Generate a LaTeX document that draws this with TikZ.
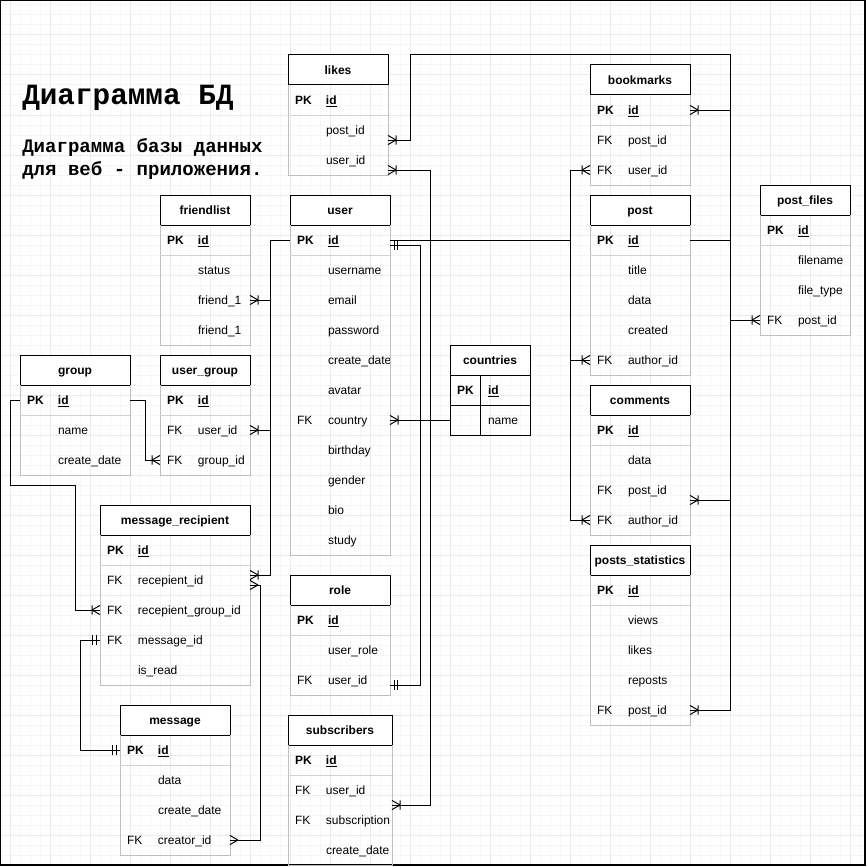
\documentclass[tikz,border=0pt]{standalone}
\usepackage{fontspec}
\setmainfont{Liberation Sans}
\newfontfamily\monofnt{Liberation Mono}
\usetikzlibrary{positioning}
\usetikzlibrary{arrows.meta}

% crow's foot ends
\pgfdeclarearrow{
    name=Crow,
    setup code={
        \pgfarrowssettipend{0pt}
        \pgfarrowssetlineend{0pt}
        \pgfarrowssetbackend{-6pt}
        \pgfarrowshullpoint{0pt}{3.4pt}
        \pgfarrowshullpoint{0pt}{-3.4pt}
        \pgfarrowshullpoint{-6pt}{0pt}},
    drawing code={
        \pgfsetdash{}{0pt}
        \pgfpathmoveto{\pgfqpoint{-6pt}{0pt}}
        \pgfpathlineto{\pgfqpoint{0pt}{3.4pt}}
        \pgfpathmoveto{\pgfqpoint{-6pt}{0pt}}
        \pgfpathlineto{\pgfqpoint{0pt}{-3.4pt}}
        \pgfusepathqstroke}}
\pgfdeclarearrow{
    name=CrowBar,
    setup code={
        \pgfarrowssettipend{0pt}
        \pgfarrowssetlineend{0pt}
        \pgfarrowssetbackend{-6pt}
        \pgfarrowshullpoint{0pt}{3.4pt}
        \pgfarrowshullpoint{0pt}{-3.4pt}
        \pgfarrowshullpoint{-6pt}{3.4pt}
        \pgfarrowshullpoint{-6pt}{-3.4pt}},
    drawing code={
        \pgfsetdash{}{0pt}
        \pgfpathmoveto{\pgfqpoint{-6pt}{0pt}}
        \pgfpathlineto{\pgfqpoint{0pt}{3.4pt}}
        \pgfpathmoveto{\pgfqpoint{-6pt}{0pt}}
        \pgfpathlineto{\pgfqpoint{0pt}{-3.4pt}}
        \pgfpathmoveto{\pgfqpoint{-6pt}{3.4pt}}
        \pgfpathlineto{\pgfqpoint{-6pt}{-3.4pt}}
        \pgfusepathqstroke}}
\pgfdeclarearrow{
    name=TwoBar,
    setup code={
        \pgfarrowssettipend{0pt}
        \pgfarrowssetlineend{0pt}
        \pgfarrowssetbackend{-5.5pt}
        \pgfarrowshullpoint{-3pt}{3.4pt}
        \pgfarrowshullpoint{-3pt}{-3.4pt}
        \pgfarrowshullpoint{-5.5pt}{3.4pt}
        \pgfarrowshullpoint{-5.5pt}{-3.4pt}},
    drawing code={
        \pgfsetdash{}{0pt}
        \pgfpathmoveto{\pgfqpoint{-3pt}{3.4pt}}
        \pgfpathlineto{\pgfqpoint{-3pt}{-3.4pt}}
        \pgfpathmoveto{\pgfqpoint{-5.5pt}{3.4pt}}
        \pgfpathlineto{\pgfqpoint{-5.5pt}{-3.4pt}}
        \pgfusepathqstroke}}

\newcommand{\fld}[2]{\rule[-2pt]{0pt}{10.6pt}\makebox[23.25pt][l]{#1}\mbox{#2}}
\newcommand{\pkrow}{\fld{\textbf{PK}}{\textbf{\underline{id}}}}

\tikzset{
    head/.style={
        draw, fill=white,
        line width=0.75pt,
        outer sep=0pt, inner xsep=0pt,
        minimum height=22.5pt,
        execute at begin node={\rule[-2pt]{0pt}{10.6pt}},
        font=\fontsize{9}{10.8}\selectfont\bfseries},
    field/.style={
        rectangle,
        outer sep=0pt, inner xsep=5.25pt, inner ysep=0pt,
        minimum height=22.5pt,
        text width=#1, align=left,
        font=\fontsize{9}{10.8}\selectfont},
    body/.style={draw=gray!50, line width=0.75pt},
    rowsep/.style={draw=gray!35, line width=0.75pt},
    link/.style={line width=0.75pt},
    gridminor/.style={draw=gray!6, line width=0.75pt},
    gridmajor/.style={draw=gray!16, line width=0.75pt}}

\begin{document}
\begin{tikzpicture}[x=0.75pt, y=-0.75pt]
    \useasboundingbox (0,0) rectangle (867,867);
    \foreach \gx in {0,10,...,860} {\draw[gridminor] (\gx,0) -- (\gx,865);}
    \foreach \gy in {5,15,...,865} {\draw[gridminor] (0,\gy) -- (865,\gy);}
    \foreach \gx in {10,50,...,850} {\draw[gridmajor] (\gx,0) -- (\gx,865);}
    \foreach \gy in {35,75,...,835} {\draw[gridmajor] (0,\gy) -- (865,\gy);}
    \draw[line width=1pt] (0.7,0.7) rectangle (865,865);

    \node[anchor=base west, inner sep=0pt, font=\monofnt\bfseries\fontsize{22}{26}\selectfont] (title) at (22,104) {Диаграмма БД};
    \node[anchor=north west, inner sep=0pt, align=left, font=\monofnt\bfseries\fontsize{14.3}{17.25}\selectfont] (subtitle) at (22,138) {Диаграмма базы данных\\для веб - приложения.};

    % likes
    \node[head, minimum width=75pt] (likes) at (338,70) {likes};
    \node[field=64.5pt, below=0pt of likes] (likes-id) {\pkrow};
    \node[field=64.5pt, below=0pt of likes-id] (likes-post) {\fld{}{post\_id}};
    \node[field=64.5pt, below=0pt of likes-post] (likes-user) {\fld{}{user\_id}};
    \draw[body] (likes.south west) |- (likes-user.south east) -- (likes.south east);
    \draw[rowsep] (likes-id.south west) -- (likes-id.south east);

    % bookmarks
    \node[head, minimum width=75pt] (bm) at (640,80) {bookmarks};
    \node[field=64.5pt, below=0pt of bm] (bm-id) {\pkrow};
    \node[field=64.5pt, below=0pt of bm-id] (bm-post) {\fld{FK}{post\_id}};
    \node[field=64.5pt, below=0pt of bm-post] (bm-user) {\fld{FK}{user\_id}};
    \draw[body] (bm.south west) |- (bm-user.south east) -- (bm.south east);
    \draw[rowsep] (bm-id.south west) -- (bm-id.south east);

    % post
    \node[head, minimum width=75pt] (post) at (640,210) {post};
    \node[field=64.5pt, below=0pt of post] (post-id) {\pkrow};
    \node[field=64.5pt, below=0pt of post-id] (post-title) {\fld{}{title}};
    \node[field=64.5pt, below=0pt of post-title] (post-data) {\fld{}{data}};
    \node[field=64.5pt, below=0pt of post-data] (post-created) {\fld{}{created}};
    \node[field=64.5pt, below=0pt of post-created] (post-author) {\fld{FK}{author\_id}};
    \draw[body] (post.south west) |- (post-author.south east) -- (post.south east);
    \draw[rowsep] (post-id.south west) -- (post-id.south east);

    % comments
    \node[head, minimum width=75pt] (com) at (640,400) {comments};
    \node[field=64.5pt, below=0pt of com] (com-id) {\pkrow};
    \node[field=64.5pt, below=0pt of com-id] (com-data) {\fld{}{data}};
    \node[field=64.5pt, below=0pt of com-data] (com-post) {\fld{FK}{post\_id}};
    \node[field=64.5pt, below=0pt of com-post] (com-author) {\fld{FK}{author\_id}};
    \draw[body] (com.south west) |- (com-author.south east) -- (com.south east);
    \draw[rowsep] (com-id.south west) -- (com-id.south east);

    % posts_statistics
    \node[head, minimum width=75pt] (stat) at (640,560) {posts\_statistics};
    \node[field=64.5pt, below=0pt of stat] (stat-id) {\pkrow};
    \node[field=64.5pt, below=0pt of stat-id] (stat-views) {\fld{}{views}};
    \node[field=64.5pt, below=0pt of stat-views] (stat-likes) {\fld{}{likes}};
    \node[field=64.5pt, below=0pt of stat-likes] (stat-reposts) {\fld{}{reposts}};
    \node[field=64.5pt, below=0pt of stat-reposts] (stat-post) {\fld{FK}{post\_id}};
    \draw[body] (stat.south west) |- (stat-post.south east) -- (stat.south east);
    \draw[rowsep] (stat-id.south west) -- (stat-id.south east);

    % post_files
    \node[head, minimum width=67.5pt] (files) at (805,200) {post\_files};
    \node[field=57pt, below=0pt of files] (files-id) {\pkrow};
    \node[field=57pt, below=0pt of files-id] (files-name) {\fld{}{filename}};
    \node[field=57pt, below=0pt of files-name] (files-type) {\fld{}{file\_type}};
    \node[field=57pt, below=0pt of files-type] (files-post) {\fld{FK}{post\_id}};
    \draw[body] (files.south west) |- (files-post.south east) -- (files.south east);
    \draw[rowsep] (files-id.south west) -- (files-id.south east);

    % countries
    \node[head, minimum width=60pt] (ctry) at (490,360) {countries};
    \node[field=49.5pt, below=0pt of ctry] (ctry-id) {\pkrow};
    \node[field=49.5pt, below=0pt of ctry-id] (ctry-name) {\fld{}{name}};
    \draw[link] (ctry.south west) |- (ctry-name.south east) -- (ctry.south east);
    \draw[link] (ctry-id.south west) -- (ctry-id.south east);
    \draw[link] ([xshift=22.5pt]ctry-id.north west) -- ([xshift=22.5pt]ctry-name.south west);

    % user
    \node[head, minimum width=75pt] (user) at (340,210) {user};
    \node[field=64.5pt, below=0pt of user] (user-id) {\pkrow};
    \node[field=64.5pt, below=0pt of user-id] (user-name) {\fld{}{username}};
    \node[field=64.5pt, below=0pt of user-name] (user-email) {\fld{}{email}};
    \node[field=64.5pt, below=0pt of user-email] (user-pass) {\fld{}{password}};
    \node[field=64.5pt, below=0pt of user-pass] (user-date) {\fld{}{create\_date}};
    \node[field=64.5pt, below=0pt of user-date] (user-avatar) {\fld{}{avatar}};
    \node[field=64.5pt, below=0pt of user-avatar] (user-country) {\fld{FK}{country}};
    \node[field=64.5pt, below=0pt of user-country] (user-birth) {\fld{}{birthday}};
    \node[field=64.5pt, below=0pt of user-birth] (user-gender) {\fld{}{gender}};
    \node[field=64.5pt, below=0pt of user-gender] (user-bio) {\fld{}{bio}};
    \node[field=64.5pt, below=0pt of user-bio] (user-study) {\fld{}{study}};
    \draw[body] (user.south west) |- (user-study.south east) -- (user.south east);
    \draw[rowsep] (user-id.south west) -- (user-id.south east);

    % friendlist
    \node[head, minimum width=67.5pt] (fr) at (205,210) {friendlist};
    \node[field=57pt, below=0pt of fr] (fr-id) {\pkrow};
    \node[field=57pt, below=0pt of fr-id] (fr-status) {\fld{}{status}};
    \node[field=57pt, below=0pt of fr-status] (fr-f1) {\fld{}{friend\_1}};
    \node[field=57pt, below=0pt of fr-f1] (fr-f2) {\fld{}{friend\_1}};
    \draw[body] (fr.south west) |- (fr-f2.south east) -- (fr.south east);
    \draw[rowsep] (fr-id.south west) -- (fr-id.south east);

    % user_group
    \node[head, minimum width=67.5pt] (ug) at (205,370) {user\_group};
    \node[field=57pt, below=0pt of ug] (ug-id) {\pkrow};
    \node[field=57pt, below=0pt of ug-id] (ug-user) {\fld{FK}{user\_id}};
    \node[field=57pt, below=0pt of ug-user] (ug-group) {\fld{FK}{group\_id}};
    \draw[body] (ug.south west) |- (ug-group.south east) -- (ug.south east);
    \draw[rowsep] (ug-id.south west) -- (ug-id.south east);

    % group
    \node[head, minimum width=82.5pt] (grp) at (75,370) {group};
    \node[field=72pt, below=0pt of grp] (grp-id) {\pkrow};
    \node[field=72pt, below=0pt of grp-id] (grp-name) {\fld{}{name}};
    \node[field=72pt, below=0pt of grp-name] (grp-date) {\fld{}{create\_date}};
    \draw[body] (grp.south west) |- (grp-date.south east) -- (grp.south east);
    \draw[rowsep] (grp-id.south west) -- (grp-id.south east);

    % message_recipient
    \node[head, minimum width=112.5pt] (mr) at (175,520) {message\_recipient};
    \node[field=102pt, below=0pt of mr] (mr-id) {\pkrow};
    \node[field=102pt, below=0pt of mr-id] (mr-rec) {\fld{FK}{recepient\_id}};
    \node[field=102pt, below=0pt of mr-rec] (mr-group) {\fld{FK}{recepient\_group\_id}};
    \node[field=102pt, below=0pt of mr-group] (mr-msg) {\fld{FK}{message\_id}};
    \node[field=102pt, below=0pt of mr-msg] (mr-read) {\fld{}{is\_read}};
    \draw[body] (mr.south west) |- (mr-read.south east) -- (mr.south east);
    \draw[rowsep] (mr-id.south west) -- (mr-id.south east);

    % message
    \node[head, minimum width=82.5pt] (msg) at (175,720) {message};
    \node[field=72pt, below=0pt of msg] (msg-id) {\pkrow};
    \node[field=72pt, below=0pt of msg-id] (msg-data) {\fld{}{data}};
    \node[field=72pt, below=0pt of msg-data] (msg-date) {\fld{}{create\_date}};
    \node[field=72pt, below=0pt of msg-date] (msg-creator) {\fld{FK}{creator\_id}};
    \draw[body] (msg.south west) |- (msg-creator.south east) -- (msg.south east);
    \draw[rowsep] (msg-id.south west) -- (msg-id.south east);

    % role
    \node[head, minimum width=75pt] (role) at (340,590) {role};
    \node[field=64.5pt, below=0pt of role] (role-id) {\pkrow};
    \node[field=64.5pt, below=0pt of role-id] (role-role) {\fld{}{user\_role}};
    \node[field=64.5pt, below=0pt of role-role] (role-user) {\fld{FK}{user\_id}};
    \draw[body] (role.south west) |- (role-user.south east) -- (role.south east);
    \draw[rowsep] (role-id.south west) -- (role-id.south east);

    % subscribers
    \node[head, minimum width=78pt] (sub) at (340,730) {subscribers};
    \node[field=67.5pt, below=0pt of sub] (sub-id) {\pkrow};
    \node[field=67.5pt, below=0pt of sub-id] (sub-user) {\fld{FK}{user\_id}};
    \node[field=67.5pt, below=0pt of sub-user] (sub-subs) {\fld{FK}{subscription}};
    \node[field=67.5pt, below=0pt of sub-subs] (sub-date) {\fld{}{create\_date}};
    \draw[body] (sub.south west) |- (sub-date.south east) -- (sub.south east);
    \draw[rowsep] (sub-id.south west) -- (sub-id.south east);

    % connectors
    \coordinate (pbus) at (730,55);
    \coordinate (ubus) at (570,170);
    \coordinate (lbus) at (270,240);

    \draw[link, {CrowBar}-{CrowBar}] ([yshift=-7.5pt]likes-post.east) -| (410,55) -- (pbus) |- (stat-post.east);
    \draw[link, -{CrowBar}] (bm-id.east -| pbus) -- (bm-id.east);
    \draw[link] (post-id.east) -- (post-id.east -| pbus);
    \draw[link, -{CrowBar}] (files-post.west -| pbus) -- (files-post.west);
    \draw[link, {CrowBar}-] ([yshift=-7.5pt]com-post.east) -- ++(40,0);

    \draw[link] (user-id.east) -- (user-id.east -| ubus);
    \draw[link, {CrowBar}-{CrowBar}] (bm-user.west) -- (ubus) |- (com-author.west);
    \draw[link, -{CrowBar}] (post-author.west -| ubus) -- (post-author.west);
    \draw[link, {CrowBar}-{CrowBar}] ([yshift=-7.5pt]likes-user.east) -| (430,805) -- ([yshift=-11.25pt]sub-user.east);
    \draw[link, {TwoBar}-{TwoBar}] ([yshift=-3.75pt]user-id.east) -| (420,685) -- ([yshift=-3.75pt]role-user.east);
    \draw[link, {CrowBar}-] (user-country.east) -- (ctry-name.west);

    \draw[link, -{CrowBar}] (user-id.west) -- (lbus) |- ([yshift=3.75pt]mr-rec.east);
    \draw[link, -{CrowBar}] (fr-f1.east -| lbus) -- (fr-f1.east);
    \draw[link, -{CrowBar}] (ug-user.east -| lbus) -- (ug-user.east);

    \draw[link, {Crow}-{Crow}] (msg-creator.east) -| (260,585) -- ([yshift=-3.75pt]mr-rec.east);
    \draw[link, -{CrowBar}] (grp-id.east) -- ++(15,0) |- (ug-group.west);
    \draw[link, -{CrowBar}] (grp-id.west) -- ++(-10,0) |- (75,485) |- (mr-group.west);
    \draw[link, {TwoBar}-{TwoBar}] (mr-msg.west) -- ++(-20,0) |- (msg-id.west);
\end{tikzpicture}
\end{document}
